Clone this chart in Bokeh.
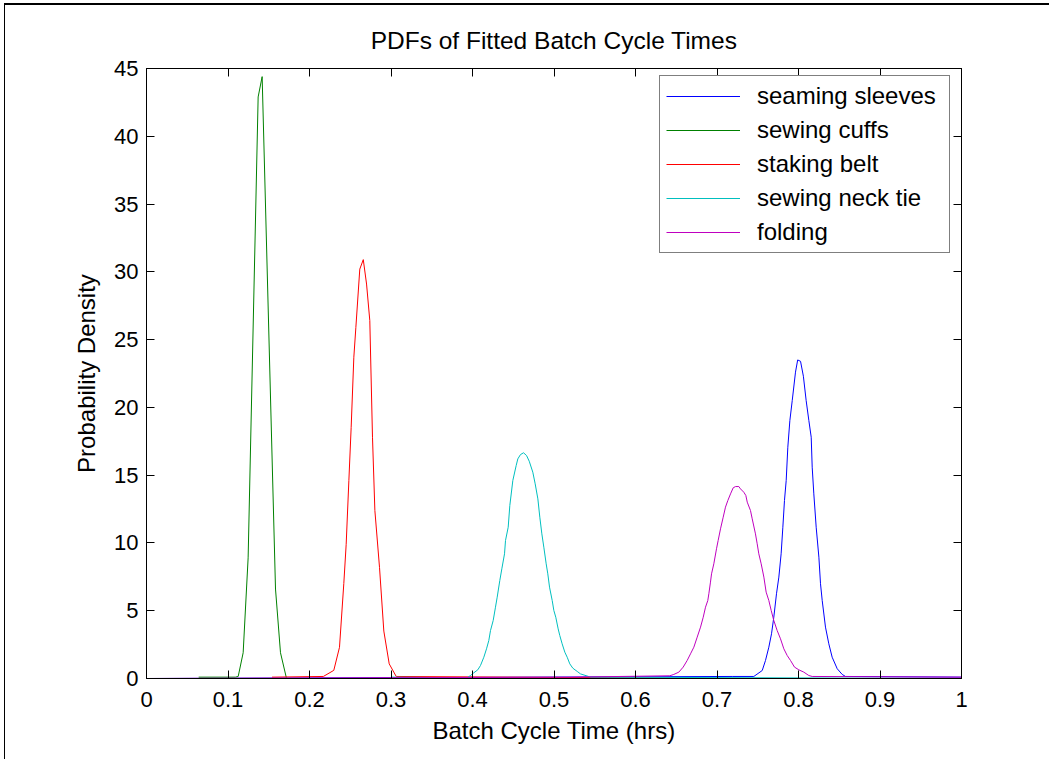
from bokeh.plotting import figure
from bokeh.models import FixedTicker, LinearAxis, Legend, LegendItem, Range1d
from bokeh.embed import file_html
from bokeh.resources import INLINE

# ---- fitted PDF curves (x in hrs, y = probability density) ----
seaming_x = [0.0, 0.7186, 0.7452, 0.7555, 0.7595, 0.7636, 0.7669, 0.7697, 0.7730,
             0.7759, 0.7787, 0.7808, 0.7828, 0.7849, 0.7869, 0.7894, 0.7923,
             0.7963, 0.7990, 0.8025, 0.8060, 0.8094, 0.8127, 0.8156, 0.8168, 0.8188,
             0.8217, 0.8250, 0.8270, 0.8291, 0.8331, 0.8372, 0.8413, 0.8475,
             0.8536, 0.8577, 1.0]
seaming_y = [0.0, 0.15, 0.15, 0.59, 1.33, 2.31, 3.30, 4.52, 6.25,
             7.48, 9.20, 11.16, 13.13, 14.61, 17.06, 19.03, 20.5,
             22.6, 23.5, 23.4, 22.3, 20.5, 19.03, 17.80, 15.59, 13.62,
             11.16, 8.95, 6.99, 5.75, 3.79, 2.56, 1.57, 0.72,
             0.30, 0.15, 0.1]

cuffs_x = [0.064, 0.109, 0.1125, 0.1186, 0.1247, 0.137, 0.1419, 0.1583,
           0.1644, 0.1718, 0.20]
cuffs_y = [0.1, 0.1, 0.15, 1.9, 8.9, 42.9, 44.4, 6.6, 1.9, 0.0, 0.0]

belt_x = [0.154, 0.217, 0.2298, 0.2368, 0.2421, 0.2450, 0.2483, 0.2511, 0.2544,
          0.2569, 0.2617, 0.2660, 0.2700, 0.2740, 0.2773, 0.2802, 0.2859,
          0.2912, 0.2978, 0.3064, 0.72]
belt_y = [0.1, 0.15, 0.6, 2.3, 7.0, 9.9, 14.6, 18.5, 23.7,
          25.9, 30.2, 30.9, 29.1, 26.4, 17.8, 12.4, 8.2,
          3.5, 1.08, 0.15, 0.0]

necktie_x = [0.30, 0.3935, 0.3975, 0.4016, 0.4065, 0.4098, 0.4139, 0.4172, 0.4200,
             0.4221, 0.4254, 0.4282, 0.4303, 0.4335, 0.4360, 0.4393, 0.4405,
             0.4438, 0.4458, 0.4495, 0.4536, 0.4556, 0.4589, 0.4626, 0.4663,
             0.4696, 0.4740, 0.4769, 0.4802, 0.4826, 0.4851, 0.4875, 0.4904,
             0.4924, 0.4945, 0.4978, 0.4998, 0.5022, 0.5051, 0.5071, 0.5100,
             0.5133, 0.5162, 0.5194, 0.5231, 0.5285, 0.5325, 0.545, 1.0]
necktie_y = [0.1, 0.05, 0.22, 0.42, 0.64, 0.96, 1.57, 2.19, 2.80,
             3.54, 4.28, 5.26, 6.00, 7.23, 8.09, 9.20, 10.18,
             11.16, 12.76, 14.61, 15.71, 16.20, 16.52, 16.65, 16.45,
             16.03, 15.22, 14.36, 13.25, 11.90, 10.67, 9.69, 8.46,
             7.72, 6.74, 5.75, 5.02, 4.52, 3.66, 3.17, 2.56,
             1.94, 1.57, 1.08, 0.76, 0.52, 0.34, 0.1, 0.0]

folding_x = [0.0, 0.52, 0.6421, 0.6470, 0.6532, 0.6585, 0.6634, 0.6675, 0.6716,
             0.6757, 0.6798, 0.6831, 0.6859, 0.6887, 0.6900, 0.6920, 0.6933,
             0.6961, 0.6994, 0.7014, 0.7043, 0.7076, 0.7104, 0.7133, 0.7166,
             0.7199, 0.7227, 0.7268, 0.7288, 0.7329, 0.7354, 0.7371, 0.7411,
             0.7432, 0.7472, 0.7493, 0.7513, 0.7542, 0.7575, 0.7603, 0.7636,
             0.7665, 0.7697, 0.7738, 0.7779, 0.7820, 0.7861, 0.7902, 0.7951,
             0.8004, 0.8065, 0.8127, 0.8168, 1.0]
folding_y = [0.0, 0.1, 0.20, 0.30, 0.47, 0.84, 1.33, 1.82, 2.31,
             3.05, 3.79, 4.52, 5.26, 5.75, 6.25, 7.11, 7.72,
             8.46, 9.57, 10.18, 11.04, 11.90, 12.64, 13.13, 13.62,
             14.07, 14.16, 14.16, 13.99, 13.74, 13.50, 13.01, 12.39,
             11.78, 10.67, 9.94, 9.20, 8.46, 7.48, 6.37, 5.75,
             5.02, 4.28, 3.54, 2.93, 2.19, 1.70, 1.33, 0.84,
             0.64, 0.47, 0.22, 0.15, 0.1]

series_names = ["seaming sleeves", "sewing cuffs", "staking belt",
                "sewing neck tie", "folding"]
series_colors = ["#0000ff", "#008000", "#ff0000", "#00bfbf", "#bf00bf"]

x_ticks = [0, 0.1, 0.2, 0.3, 0.4, 0.5, 0.6, 0.7, 0.8, 0.9, 1.0]
x_tick_labels = ["0", "0.1", "0.2", "0.3", "0.4", "0.5", "0.6", "0.7", "0.8", "0.9", "1"]
y_ticks = [0, 5, 10, 15, 20, 25, 30, 35, 40, 45]

FONT = "Liberation Sans"

p = figure(width=1049, height=759, x_range=Range1d(0, 1), y_range=Range1d(0, 45),
           output_backend="svg", toolbar_location=None,
           min_border_left=146, min_border_right=88,
           min_border_top=68, min_border_bottom=81,
           title="PDFs of Fitted Batch Cycle Times")
p.background_fill_color = "white"
# transparent border area so the page frame (top and left edges) behind the canvas shows
p.border_fill_alpha = 0.0
p.styles = {
    "background": ("linear-gradient(#000, #000) 4px 4px / 1px 800px no-repeat, "
                   "linear-gradient(#000, #000) 4px 3px / 1045px 2px no-repeat, "
                   "#ffffff"),
}
p.outline_line_color = "black"
p.outline_line_width = 1
p.grid.visible = False

p.title.align = "center"
p.title.text_font = FONT
p.title.text_font_size = "24.5px"
p.title.text_font_style = "normal"
p.title.text_color = "black"
p.title.standoff = 29

def style_axis(ax, show_labels):
    ax.axis_line_color = "black"
    ax.major_tick_line_color = "black"
    ax.major_tick_in = 8
    ax.major_tick_out = 0
    ax.minor_tick_line_color = None
    ax.major_label_text_font = FONT
    ax.major_label_text_color = "black"
    if show_labels:
        ax.major_label_text_font_size = "22px"
    else:
        ax.major_label_text_font_size = "1px"
        ax.major_label_text_color = None
        ax.major_label_standoff = 0

xaxis = p.xaxis[0]
yaxis = p.yaxis[0]
xaxis.ticker = FixedTicker(ticks=x_ticks)
xaxis.major_label_overrides = {t: s for t, s in zip(x_ticks, x_tick_labels)}
yaxis.ticker = FixedTicker(ticks=y_ticks)
style_axis(xaxis, True)
style_axis(yaxis, True)
xaxis.major_label_standoff = 13
yaxis.major_label_standoff = 8

xaxis.axis_label = "Batch Cycle Time (hrs)"
yaxis.axis_label = "Probability Density"
for ax in (xaxis, yaxis):
    ax.axis_label_text_font = FONT
    ax.axis_label_text_font_size = "24px"
    ax.axis_label_text_font_style = "normal"
    ax.axis_label_text_color = "black"
xaxis.axis_label_standoff = 7
yaxis.axis_label_standoff = 11

top_axis = LinearAxis(ticker=FixedTicker(ticks=x_ticks))
right_axis = LinearAxis(ticker=FixedTicker(ticks=y_ticks))
style_axis(top_axis, False)
style_axis(right_axis, False)
p.add_layout(top_axis, "above")
p.add_layout(right_axis, "right")

xs = [seaming_x, cuffs_x, belt_x, necktie_x, folding_x]
ys = [seaming_y, cuffs_y, belt_y, necktie_y, folding_y]
items = []
for name, color, x, y in zip(series_names, series_colors, xs, ys):
    r = p.line(x, y, line_color=color, line_width=1)
    items.append(LegendItem(label=name, renderers=[r]))

legend = Legend(items=items, location=(513, 425),
                label_text_font=FONT, label_text_font_size="24px",
                label_text_color="black",
                glyph_width=74, glyph_height=20, label_standoff=17,
                label_width=186, padding=6, spacing=6, margin=0,
                border_line_color="black", border_line_width=1,
                background_fill_color="white", background_fill_alpha=1.0)
p.add_layout(legend)

open("out.html", "w").write(file_html(p, INLINE))
